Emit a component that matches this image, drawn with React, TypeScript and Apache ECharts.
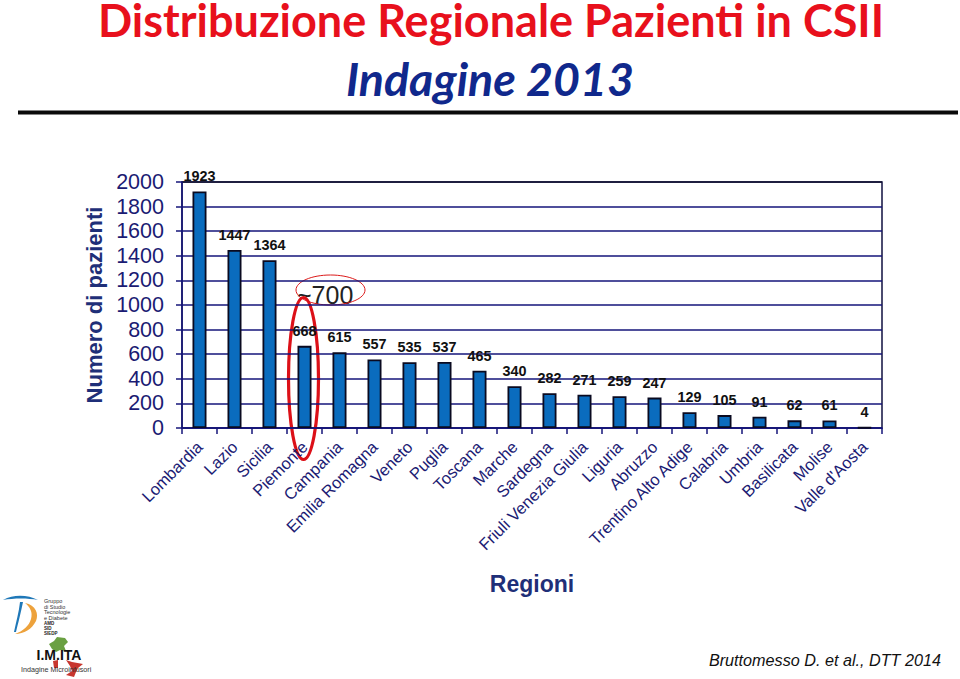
import React, { useEffect, useRef } from "react";
import * as echarts from "echarts";

const regions = ["Lombardia","Lazio","Sicilia","Piemonte","Campania","Emilia Romagna","Veneto","Puglia","Toscana","Marche","Sardegna","Friuli Venezia Giulia","Liguria","Abruzzo","Trentino Alto Adige","Calabria","Umbria","Basilicata","Molise","Valle d'Aosta"];
const patients = [1923,1447,1364,668,615,557,535,537,465,340,282,271,259,247,129,105,91,62,61,4];
const shownLabels = ["1923","1447","1364","668","615","557","535","537","465","340","282","271","259","247","129","105","91","62","61","4"];
const titleMain = "Distribuzione Regionale Pazienti in CSII";
const titleSub = "Indagine 2013";
const citation = "Bruttomesso D. et al., DTT 2014";
const groupLines = ["Gruppo", "di Studio", "Tecnologie", "e Diabete"];
const societies = ["AMD", "SID", "SIEDP"];

const NAVY = "#14147a";
const TEXT_NAVY = "#1b1b73";

let registered = false;
function registerShapes() {
  if (registered) return;
  registered = true;
  echarts.graphic.registerShape("dSwoosh", echarts.graphic.extendPath("M3 600 C14 594 28 595 38 600 C28 598 14 598 3 600 Z M20 602 L23 602 C21 612 18 624 16 632 L14 632 C16 622 19 612 20 602 Z", {}));
  echarts.graphic.registerShape("dCrescent", echarts.graphic.extendPath("M25 603 C36 605 39 614 36 621 C32 629 24 634 15 634 C23 631 29 626 31 619 C33 612 30 607 25 603 Z", {}));
  echarts.graphic.registerShape("italyNorth", echarts.graphic.extendPath("M49 644 L54 641 L57 637 L65 638 L68 642 L64 646 L66 651 L60 650 L56 652 L52 649 Z", {}));
  echarts.graphic.registerShape("italySouth", echarts.graphic.extendPath("M66 660 L72 662 L83 664 L78 668 L76 672 L74 677 L66 675 L72 671 L70 666 Z M53 661 L58 660 L58 668 L54 668 Z", {}));
}

export default function App() {
  const ref = useRef<HTMLDivElement>(null);
  useEffect(() => {
    document.body.style.margin = "0";
    registerShapes();
    const chart = echarts.init(ref.current!, undefined, { renderer: "svg" });
    chart.setOption({
      animation: false,
      backgroundColor: "#fff",
      grid: { left: 182, right: 78, top: 182, bottom: 251, show: true, borderColor: "#101040", borderWidth: 1.5, containLabel: false },
      xAxis: {
        type: "category",
        data: regions,
        name: "Regioni",
        nameLocation: "middle",
        nameGap: 144,
        nameTextStyle: { fontFamily: "Liberation Sans", fontWeight: "bold", fontSize: 23, color: "#1f2f78" },
        axisLine: { lineStyle: { color: NAVY, width: 1.5 } },
        axisTick: { show: true, length: 6, lineStyle: { color: NAVY, width: 1.5 } },
        axisLabel: { rotate: 45, interval: 0, margin: 16, fontFamily: "Liberation Sans", fontSize: 16.5, color: TEXT_NAVY },
      },
      yAxis: {
        type: "value",
        min: 0,
        max: 2000,
        interval: 200,
        name: "Numero di pazienti",
        nameLocation: "middle",
        nameRotate: 90,
        nameGap: 64,
        nameTextStyle: { fontFamily: "Liberation Sans", fontWeight: "bold", fontSize: 22, color: "#1f2f78" },
        axisLine: { show: true, lineStyle: { color: NAVY, width: 1.5 } },
        axisTick: { show: true, length: 6, lineStyle: { color: NAVY, width: 1.5 } },
        axisLabel: { margin: 18, fontFamily: "Liberation Sans", fontSize: 21.5, color: TEXT_NAVY, formatter: (v: number) => String(v) },
        splitLine: { show: true, lineStyle: { width: 1.5, color: [NAVY,NAVY,NAVY,NAVY,NAVY,NAVY,NAVY,NAVY,NAVY,NAVY,"#101030"] } },
      },
      series: [{
        type: "bar",
        data: patients,
        barWidth: 14,
        itemStyle: { color: "#0a6cbe", borderColor: "#0a0a20", borderWidth: 1.8 },
        label: {
          show: true,
          position: "top",
          distance: 8,
          fontFamily: "Liberation Sans",
          fontWeight: "bold",
          fontSize: 14.4,
          color: "#111",
          formatter: (p: any) => shownLabels[p.dataIndex],
        },
      }],
      graphic: [
        { type: "text", x: 491, y: 20, style: { text: titleMain, font: "bold 45px Lato, sans-serif", lineHeight: 38, fill: "#e8101c", textAlign: "center", textVerticalAlign: "middle" } },
        { type: "text", x: 490, y: 78, style: { text: titleSub, font: "italic bold 46.5px Lato, sans-serif", fill: "#10288c", textAlign: "center", textVerticalAlign: "middle" } },
        { type: "rect", shape: { x: 18, y: 110.5, width: 940, height: 4 }, style: { fill: "#0a0a0a" } },
        { type: "text", x: 297, y: 295, style: { text: "~700", font: "25px 'Liberation Sans'", fill: "#222", textVerticalAlign: "middle" } },
        { type: "ellipse", shape: { cx: 330.5, cy: 290, rx: 34.5, ry: 15 }, style: { fill: "none", stroke: "#dc1a1a", lineWidth: 1 } },
        { type: "ellipse", shape: { cx: 303.5, cy: 378.5, rx: 15, ry: 81 }, style: { fill: "none", stroke: "#dc1018", lineWidth: 3.2 } },
        { type: "text", x: 941, y: 660, style: { text: citation, font: "italic 16.2px 'Liberation Sans'", fill: "#111", textAlign: "right", textVerticalAlign: "middle" } },
        { type: "dSwoosh", style: { fill: "#1f78b8" } },
        { type: "dCrescent", style: { fill: "#eda23c" } },
        ...groupLines.map((t, i) => ({ type: "text", x: 44, y: 601 + i * 5.6, style: { text: t, font: "5.5px 'Liberation Sans'", fill: "#333", textVerticalAlign: "middle" } })),
        ...societies.map((t, i) => ({ type: "text", x: 44, y: 623 + i * 5, style: { text: t, font: "bold 4.5px 'Liberation Sans'", fill: "#222", textVerticalAlign: "middle" } })),
        { type: "italyNorth", style: { fill: "#6aa042" } },
        { type: "italySouth", style: { fill: "#c8362e" } },
        { type: "text", x: 59, y: 655, style: { text: "I.M.ITA", font: "bold 14px 'Liberation Sans'", fill: "#111", textAlign: "center", textVerticalAlign: "middle" } },
        { type: "text", x: 21, y: 669.5, style: { text: "Indagine Microinfusori", font: "7.2px 'Liberation Sans'", fill: "#333", textVerticalAlign: "middle" } },
      ],
    });
    return () => chart.dispose();
  }, []);
  return <div ref={ref} style={{ width: 960, height: 679 }} />;
}
